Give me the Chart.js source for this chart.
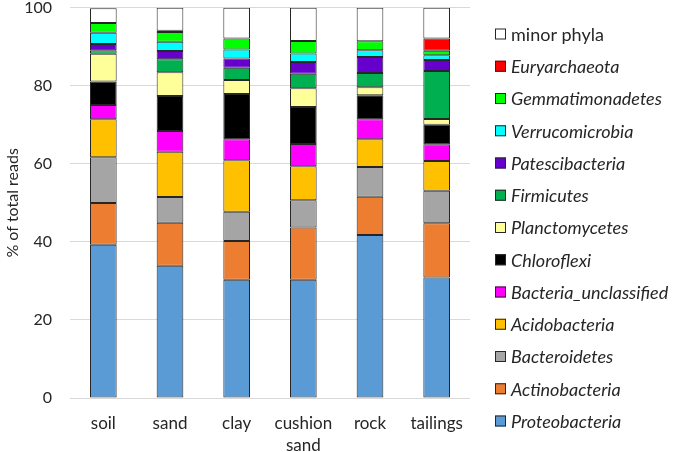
<!DOCTYPE html>
<html>
<head>
<meta charset="utf-8">
<script src="https://cdn.jsdelivr.net/npm/chart.js@4/dist/chart.umd.min.js"></script>
<style>
  html, body { margin: 0; padding: 0; background: #fff; }
  #wrap { width: 675px; height: 452px; }
</style>
</head>
<body>
<div id="wrap"><canvas id="c" width="675" height="452"></canvas></div>
<script>
// categories (sites)
const categories = ["soil", "sand", "clay", ["cushion", "sand"], "rock", "tailings"];

// % of total reads, stacked bottom -> top
const proteobacteria = [39.3, 33.9, 30.3, 30.3, 41.8, 30.9];
const actinobacteria = [10.7, 11.0, 9.9, 13.4, 9.8, 13.9];
const bacteroidetes = [11.7, 6.6, 7.5, 7.0, 7.6, 8.3];
const acidobacteria = [9.7, 11.6, 13.2, 8.7, 7.1, 7.6];
const bacteriaUnclassified = [3.7, 5.3, 5.4, 5.7, 5.1, 4.3];
const chloroflexi = [6.0, 9.0, 11.6, 9.5, 6.2, 5.0];
const planctomycetes = [7.1, 6.1, 3.6, 4.8, 2.0, 1.5];
const firmicutes = [0.9, 3.3, 3.1, 3.7, 3.7, 12.3];
const patescibacteria = [1.6, 2.1, 2.4, 3.0, 4.1, 2.8];
const verrucomicrobia = [2.9, 2.4, 2.3, 2.2, 1.7, 1.2];
const gemmatimonadetes = [2.5, 2.5, 2.8, 3.2, 2.3, 1.2];
const euryarchaeota = [0, 0.3, 0, 0, 0, 3.1];
const minorPhyla = [3.8, 5.9, 7.9, 8.5, 8.6, 7.9];

// y axis ticks
const yTicks = [0, 20, 40, 60, 80, 100];

const FONT = "Lato, 'Open Sans', sans-serif";
const TEXT = "#262626";

const series = [
  { label: "Proteobacteria", data: proteobacteria, color: "#5B9BD5", italic: true },
  { label: "Actinobacteria", data: actinobacteria, color: "#ED7D31", italic: true },
  { label: "Bacteroidetes", data: bacteroidetes, color: "#A5A5A5", italic: true },
  { label: "Acidobacteria", data: acidobacteria, color: "#FFC000", italic: true },
  { label: "Bacteria_unclassified", data: bacteriaUnclassified, color: "#FF00FF", italic: true },
  { label: "Chloroflexi", data: chloroflexi, color: "#000000", italic: true },
  { label: "Planctomycetes", data: planctomycetes, color: "#FFFF99", italic: true },
  { label: "Firmicutes", data: firmicutes, color: "#00B050", italic: true },
  { label: "Patescibacteria", data: patescibacteria, color: "#6600CC", italic: true },
  { label: "Verrucomicrobia", data: verrucomicrobia, color: "#00FFFF", italic: true },
  { label: "Gemmatimonadetes", data: gemmatimonadetes, color: "#00FF00", italic: true },
  { label: "Euryarchaeota", data: euryarchaeota, color: "#FF0000", italic: true },
  { label: "minor phyla", data: minorPhyla, color: "#FFFFFF", italic: false },
];

// legend drawn by hand, top item = last series
const sideLegend = {
  id: "sideLegend",
  afterDraw(chart) {
    const ctx = chart.ctx;
    ctx.save();
    const items = chart.data.datasets.slice().reverse();
    items.forEach((ds, k) => {
      const y = 34 + k * 32.25;
      ctx.fillStyle = ds.backgroundColor;
      ctx.fillRect(495, y - 5.5, 11, 11);
      ctx.strokeStyle = "#262626";
      ctx.lineWidth = 1;
      ctx.strokeRect(495.5, y - 5, 10, 10);
      ctx.fillStyle = TEXT;
      ctx.textBaseline = "middle";
      ctx.textAlign = "left";
      ctx.font = (ds.italic ? "italic " : "") + "18px " + FONT;
      ctx.fillText(ds.label, 511, y + 1);
    });
    ctx.restore();
  },
};

new Chart(document.getElementById("c"), {
  type: "bar",
  data: {
    labels: categories,
    datasets: series.map((s) => ({
      label: s.label,
      data: s.data,
      italic: s.italic,
      backgroundColor: s.color,
      borderColor: "#262626",
      borderWidth: 1,
      borderSkipped: false,
      categoryPercentage: 0.8,
      barPercentage: 0.5,
    })),
  },
  options: {
    responsive: false,
    animation: false,
    layout: { padding: { top: 0, right: 205, left: 0, bottom: 0 } },
    plugins: { legend: { display: false }, tooltip: { enabled: false } },
    scales: {
      x: {
        stacked: true,
        grid: { display: false },
        border: { display: false },
        ticks: { color: TEXT, font: { family: FONT, size: 17, lineHeight: 1.3 }, padding: 6, maxRotation: 0 },
        afterFit: (s) => { s.height = 54; },
      },
      y: {
        stacked: true,
        min: 0,
        max: 100,
        afterBuildTicks: (s) => { s.ticks = yTicks.map((v) => ({ value: v })); },
        grid: { color: "#D9D9D9", lineWidth: 1, drawTicks: true, tickLength: 18, tickColor: "rgba(0,0,0,0)" },
        border: { display: false },
        ticks: { color: TEXT, font: { family: FONT, size: 16, lineHeight: 0.97 }, padding: 0 },
        title: { display: true, text: "% of total reads", color: TEXT, font: { family: FONT, size: 16 }, padding: { top: 3, bottom: 0 } },
        afterFit: (s) => { s.width = 70; },
      },
    },
  },
  plugins: [sideLegend],
});
</script>
</body>
</html>
